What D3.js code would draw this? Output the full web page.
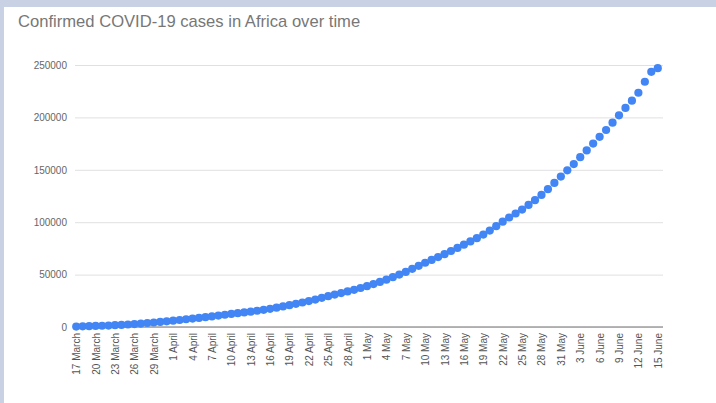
<!DOCTYPE html>
<html>
<head>
<meta charset="utf-8">
<script src="https://cdn.jsdelivr.net/npm/d3@7/dist/d3.min.js"></script>
<style>
  html, body { margin: 0; padding: 0; background: #c9d1e5; }
  svg { display: block; }
</style>
</head>
<body>
<svg id="chart" width="716" height="403"></svg>
<script>
// Cumulative confirmed cases, one value per day from 17 March to 15 June
const startDate = new Date(2020, 2, 17);
const cases = [
  450, 600, 750, 1000, 1200, 1400, 1700, 2000, 2400, 2800, 3300, 3800, 4300, 4800, 5400,
  6000, 6700, 7400, 8000, 8700, 9400, 10100, 10900, 11700, 12500, 13200, 13900, 14600, 15500, 16400,
  17300, 18400, 19600, 20800, 22100, 23400, 24700, 26200, 27800, 29400, 30900, 32400, 33900, 35500, 37200,
  39000, 41000, 43000, 45200, 47500, 50000, 52600, 55500, 58400, 61300, 64000, 66700, 69500, 72500, 75500,
  78600, 81700, 84800, 88200, 92000, 96200, 100500, 104500, 108300, 112000, 116500, 121000, 126000, 131500, 137500,
  143500, 149500, 155500, 162000, 168500, 175000, 181500, 188000, 195000, 202000, 209000, 216000, 223500, 234000, 243500,
  247000
];
const yTicks = [0, 50000, 100000, 150000, 200000, 250000];
const title = "Confirmed COVID-19 cases in Africa over time";
const monthNames = ["January", "February", "March", "April", "May", "June"];

const dayLabel = i => {
  const d = new Date(startDate);
  d.setDate(d.getDate() + i);
  return d.getDate() + " " + monthNames[d.getMonth()];
};
const days = cases.map((_, i) => i);

const svg = d3.select("#chart");
const font = "'Liberation Sans', Arial, sans-serif";

// white card
svg.append("rect").attr("x", 4).attr("y", 7).attr("width", 712).attr("height", 396).attr("fill", "#ffffff");

svg.append("text")
  .attr("x", 18).attr("y", 27)
  .attr("font-family", font).attr("font-size", 16.6)
  .attr("fill", "#777777")
  .text(title);

const x = d3.scalePoint().domain(days).range([73, 661]).padding(0.5);
const y = d3.scaleLinear().domain([0, 250000]).range([327, 65]);

// horizontal gridlines with value labels
const yAxis = d3.axisLeft(y).tickValues(yTicks).tickFormat(d3.format("d"))
  .tickSize(-(663 - 75)).tickPadding(8);
const gy = svg.append("g").attr("transform", "translate(75,0)").call(yAxis);
gy.select(".domain").remove();
gy.selectAll(".tick line").attr("stroke", "#e0e0e0").attr("stroke-width", 1);
gy.selectAll(".tick text").attr("font-family", font).attr("font-size", 10).attr("fill", "#666");

// baseline
svg.append("line")
  .attr("x1", 75).attr("x2", 663).attr("y1", y(0)).attr("y2", y(0))
  .attr("stroke", "#9e9e9e").attr("stroke-width", 1.3);

// category labels every third day, rotated
const xAxis = d3.axisBottom(x)
  .tickValues(days.filter(i => i % 3 === 0))
  .tickFormat(dayLabel).tickSize(0).tickPadding(6);
const gx = svg.append("g").attr("transform", `translate(0,${y(0)})`).call(xAxis);
gx.select(".domain").remove();
gx.selectAll(".tick text")
  .attr("font-family", font).attr("font-size", 10).attr("fill", "#555")
  .attr("transform", "rotate(-90)")
  .attr("text-anchor", "end")
  .attr("x", -6).attr("y", 0).attr("dy", "0.35em");

// daily points
svg.append("g").selectAll("circle").data(cases).join("circle")
  .attr("cx", (d, i) => x(i))
  .attr("cy", d => y(d))
  .attr("r", 4.1)
  .attr("fill", "#4285f4");
</script>
</body>
</html>
